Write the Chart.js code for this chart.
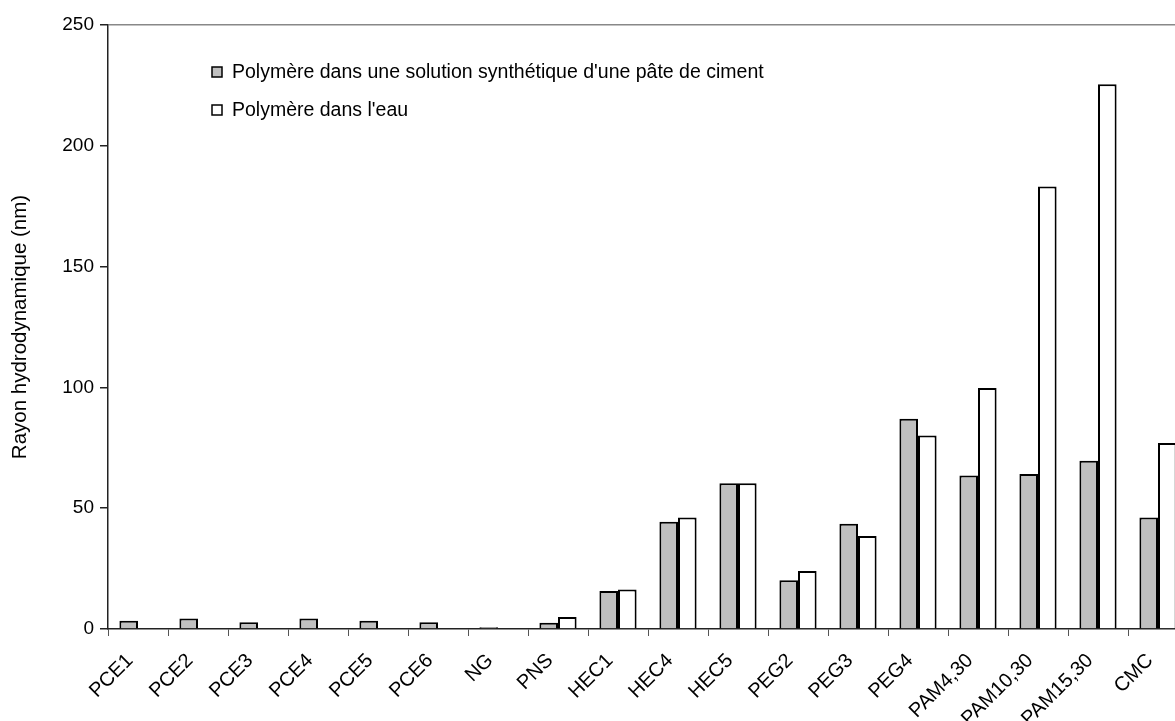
<!DOCTYPE html>
<html>
<head>
<meta charset="utf-8">
<script src="https://cdn.jsdelivr.net/npm/chart.js@4/dist/chart.umd.min.js"></script>
<style>
  body { margin: 0; overflow: hidden; background: #fff; }
  canvas { display: block; }
</style>
</head>
<body>
<canvas id="myChart" width="1190" height="721"></canvas>
<script>
// data
const categories = ['PCE1', 'PCE2', 'PCE3', 'PCE4', 'PCE5', 'PCE6', 'NG', 'PNS', 'HEC1', 'HEC4',
  'HEC5', 'PEG2', 'PEG3', 'PEG4', 'PAM4,30', 'PAM10,30', 'PAM15,30', 'CMC'];
const cementValues = [3.4, 4.3, 2.8, 4.3, 3.4, 2.8, 0.7, 2.6, 15.7, 44.4,
  60.3, 20.2, 43.6, 87.0, 63.5, 64.2, 69.6, 46.1];
const waterValues = [null, null, null, null, null, null, null, 5.0, 16.4, 46.1,
  60.3, 24.0, 38.5, 80.1, 99.8, 183.2, 225.5, 77.0];
const seriesNames = ["Polymère dans une solution synthétique d'une pâte de ciment", "Polymère dans l'eau"];
const yTicks = [0, 50, 100, 150, 200, 250];

const FONT = '"Liberation Sans", Arial, sans-serif';

// legend sits inside the plot area, so draw it by hand
const innerLegend = {
  id: 'innerLegend',
  afterDraw: (chart) => {
    let ctx = chart.ctx;
    ctx.save();
    ctx.font = '19.5px ' + FONT;
    ctx.textBaseline = 'middle';
    chart.data.datasets.forEach((ds, i) => {
      let y = 72 + i * 38;
      ctx.fillStyle = ds.backgroundColor;
      ctx.fillRect(212, y - 5, 10, 10);
      ctx.strokeStyle = '#000';
      ctx.lineWidth = 1.5;
      ctx.strokeRect(212, y - 5, 10, 10);
      ctx.fillStyle = '#000';
      ctx.fillText(ds.label, 232, y + 1);
    });
    ctx.restore();
  }
};

let ctx = document.getElementById('myChart').getContext('2d');
let chart = new Chart(ctx, {
  type: 'bar',
  data: {
    labels: categories,
    datasets: [
      {
        label: seriesNames[0],
        data: cementValues,
        backgroundColor: '#c0c0c0',
        borderColor: '#000',
        borderWidth: 2,
        categoryPercentage: 0.62,
        barPercentage: 1
      },
      {
        label: seriesNames[1],
        data: waterValues,
        backgroundColor: '#ffffff',
        borderColor: '#000',
        borderWidth: 2,
        categoryPercentage: 0.62,
        barPercentage: 1
      }
    ]
  },
  options: {
    responsive: false,
    animation: false,
    layout: { padding: { top: 25, right: 2, left: 0, bottom: 0 } },
    plugins: {
      legend: { display: false },
      tooltip: { enabled: false }
    },
    scales: {
      x: {
        grid: { drawOnChartArea: false, tickLength: 7, tickColor: '#555' },
        border: { color: '#222', width: 1.5 },
        ticks: {
          color: '#000',
          font: { family: FONT, size: 20 },
          minRotation: 45,
          maxRotation: 45,
          autoSkip: false,
          padding: 13,
          labelOffset: -8
        },
        afterFit: (scale) => { scale.height = 92; }
      },
      y: {
        min: 0,
        max: 250,
        afterBuildTicks: (scale) => { scale.ticks = yTicks.map(v => ({ value: v })); },
        grid: {
          color: (c) => (c.tick && c.tick.value === 250 ? '#888' : 'transparent'),
          lineWidth: 1.5,
          tickLength: 8,
          tickColor: '#222'
        },
        border: { color: '#222', width: 1.5 },
        ticks: {
          color: '#000',
          font: { family: FONT, size: 19 },
          padding: 6
        },
        title: {
          display: true,
          text: 'Rayon hydrodynamique (nm)',
          color: '#000',
          font: { family: FONT, size: 20.5 },
          padding: { top: 8, bottom: 4 }
        },
        afterFit: (scale) => { scale.width = 108; }
      }
    }
  },
  plugins: [innerLegend]
});
</script>
</body>
</html>
